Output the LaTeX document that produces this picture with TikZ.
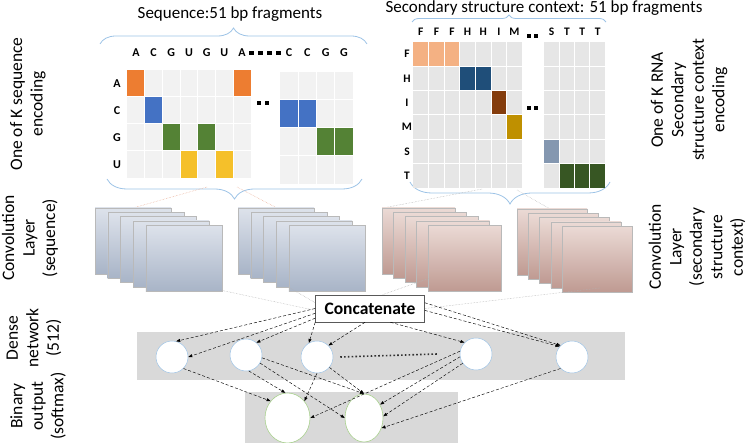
\documentclass[tikz,border=0pt]{standalone}
\usepackage{fontspec}
\setmainfont{Carlito}
\usetikzlibrary{arrows.meta,shapes.geometric,decorations.pathreplacing}

\definecolor{cellbg}{HTML}{F2F2F2}
\definecolor{cellbgb}{HTML}{E6E6E6}
\definecolor{nA}{HTML}{ED7D31}
\definecolor{nC}{HTML}{4472C4}
\definecolor{nG}{HTML}{548235}
\definecolor{nU}{HTML}{F5C02A}
\definecolor{sF}{HTML}{F4B183}
\definecolor{sH}{HTML}{1F4E79}
\definecolor{sI}{HTML}{843C0C}
\definecolor{sM}{HTML}{BF9000}
\definecolor{sS}{HTML}{8497B0}
\definecolor{sT}{HTML}{375623}
\definecolor{braceblue}{HTML}{9DC3E6}
\definecolor{bandgray}{HTML}{D9D9D9}
\definecolor{seqtop}{HTML}{DDE2EB}
\definecolor{seqbot}{HTML}{A8B4C7}
\definecolor{sectop}{HTML}{EBDAD5}
\definecolor{secbot}{HTML}{BF9A92}
\definecolor{outgreen}{HTML}{A9D18E}
\definecolor{guidered}{HTML}{E8A990}

\tikzset{
  sidelabel/.style={rotate=90, align=center, inner sep=1pt, font=\fontsize{17.5}{20.5}\selectfont},
  letter/.style={font=\fontsize{12}{13}\selectfont\bfseries, inner sep=0pt},
  braceline/.style={draw=braceblue, line width=0.8pt, decorate},
  guide/.style={densely dotted, line width=0.5pt, draw=gray!60},
  feature/.style={draw=gray!55, line width=0.4pt},
  gridline/.style={white, line width=1pt},
  dotsq/.style={fill=black},
  neuron/.style={circle, draw=braceblue, fill=white, line width=0.5pt, minimum size=32pt, inner sep=0pt},
  outneuron/.style={ellipse, draw=outgreen, fill=white, line width=0.6pt, inner sep=0pt},
  link/.style={densely dashed, line width=0.45pt, -{Triangle[length=4pt,width=3pt]}},
}

\begin{document}
\begin{tikzpicture}[x=1pt,y=-1pt]
  \useasboundingbox (0,0) rectangle (750,443);

  \node[font=\fontsize{17}{20}\selectfont] (seqtitle) at (230,14) {Sequence:51 bp fragments};
  \node[font=\fontsize{17}{20}\selectfont] (sectitle) at (544,8) {Secondary structure context: 51 bp fragments};

  \node[sidelabel] (encseq) at (28,104) {One of K sequence\\encoding};
  \node[sidelabel] (convseq) at (30,238) {Convolution\\Layer\\(sequence)};
  \node[sidelabel] (dense) at (34,338) {Dense\\network\\(512)};
  \node[sidelabel] (binout) at (38,406) {Binary\\output\\(softmax)};
  \node[sidelabel] (encsec) at (689,100) {One of K RNA\\Secondary\\structure context\\encoding};
  \node[sidelabel] (convsec) at (697,247) {Convolution\\Layer\\(secondary\\structure\\context)};

  \draw[braceline, decoration={brace,amplitude=16pt}] (100,44) -- (367,44);
  \draw[braceline, decoration={brace,amplitude=20pt}] (362,179) -- (107,179);
  \draw[braceline, decoration={brace,amplitude=7pt}] (412,22) -- (606,22);
  \draw[braceline, decoration={brace,amplitude=22pt}] (610,182) -- (410,182);

  \fill[cellbg] (127,70) rectangle (251,178);
  \foreach \c/\r/\col in {0/0/nA,1/1/nC,2/2/nG,3/3/nU,4/2/nG,5/3/nU,6/0/nA}
    \fill[\col] (127+17.7*\c,70+27*\r) rectangle ++(17.7,27);
  \foreach \c in {1,...,6} \draw[gridline] (127+17.7*\c,70) -- ++(0,108);
  \foreach \r in {1,2,3} \draw[gridline] (127,70+27*\r) -- ++(124,0);
  \fill[cellbg] (280,72) rectangle (353,184);
  \foreach \c/\r/\col in {0/1/nC,1/1/nC,2/2/nG,3/2/nG}
    \fill[\col] (280+18.3*\c,72+28*\r) rectangle ++(18.3,28);
  \foreach \c in {1,2,3} \draw[gridline] (280+18.3*\c,72) -- ++(0,112);
  \foreach \r in {1,2,3} \draw[gridline] (280,72+28*\r) -- ++(73,0);
  \foreach \l [count=\i from 0] in {A,C,G,U}
    \node[letter] at (117,83.5+27*\i) {\l};
  \foreach \l [count=\i from 0] in {A,C,G,U,G,U,A}
    \node[letter] at (135.9+17.7*\i,53) {\l};
  \foreach \l [count=\i from 0] in {C,C,G,G}
    \node[letter] at (289+18.3*\i,53) {\l};
  \foreach \x in {249,258,267,276} \fill[dotsq] (\x,51.3) rectangle ++(4.5,3.5);
  \foreach \x in {257,265} \fill[dotsq] (\x,101.5) rectangle ++(4,4);

  \fill[cellbgb] (413,42) rectangle (522.2,187.8);
  \foreach \c/\r/\col in {0/0/sF,1/0/sF,2/0/sF,3/1/sH,4/1/sH,5/2/sI,6/3/sM}
    \fill[\col] (413+15.6*\c,42+24.3*\r) rectangle ++(15.6,24.3);
  \foreach \c in {1,...,6} \draw[gridline] (413+15.6*\c,42) -- ++(0,145.8);
  \foreach \r in {1,...,5} \draw[gridline] (413,42+24.3*\r) -- ++(109.2,0);
  \fill[cellbgb] (544,42) rectangle (605.2,187.8);
  \foreach \c/\r/\col in {0/4/sS,1/5/sT,2/5/sT,3/5/sT}
    \fill[\col] (544+15.3*\c,42+24.3*\r) rectangle ++(15.3,24.3);
  \foreach \c in {1,2,3} \draw[gridline] (544+15.3*\c,42) -- ++(0,145.8);
  \foreach \r in {1,...,5} \draw[gridline] (544,42+24.3*\r) -- ++(61.2,0);
  \foreach \l [count=\i from 0] in {F,H,I,M,S,T}
    \node[letter, font=\fontsize{11.5}{12}\selectfont\bfseries] at (407,54.2+24.3*\i) {\l};
  \foreach \l [count=\i from 0] in {F,F,F,H,H,I,M}
    \node[letter, font=\fontsize{11.5}{12}\selectfont\bfseries] at (420.8+15.6*\i,32) {\l};
  \foreach \l [count=\i from 0] in {S,T,T,T}
    \node[letter, font=\fontsize{11.5}{12}\selectfont\bfseries] at (551.7+15.3*\i,32) {\l};
  \foreach \x in {527,534} {
    \fill[dotsq] (\x,34.5) rectangle ++(3.8,3.8);
    \fill[dotsq] (\x,106.5) rectangle ++(3.8,3.8);
  }

  \coordinate (seqL) at (207,187);
  \coordinate (seqR) at (237,187);
  \coordinate (secL) at (482,189);
  \coordinate (secR) at (517,190);
  \coordinate (map1) at (133,208);
  \coordinate (map2) at (277,208);
  \coordinate (map3) at (383,208);
  \coordinate (map4) at (550,209);
  \draw[guide, draw=guidered] (seqL) -- (map1);
  \draw[guide, draw=guidered] (seqR) -- (map2);
  \draw[guide] (secL) -- (map3);
  \draw[guide] (secR) -- (map4);

  \foreach \x/\ty/\dx/\w/\top/\bot in {95/208/12.7/76/seqtop/seqbot,238/208/12.7/76/seqtop/seqbot,382/208/11.5/73/sectop/secbot,517/209/11.3/70/sectop/secbot}
    \foreach \i in {0,...,4}
      \shade[feature, top color=\top, bottom color=\bot] (\x+\i*\dx,\ty+4.3*\i) rectangle ++(\w,66);

  \node[draw=gray!70!black, fill=white, line width=0.6pt, minimum width=109pt, minimum height=27pt,
        font=\fontsize{17.5}{19}\selectfont\bfseries, inner sep=1pt] (concat) at (370,308.5) {Concatenate};
  \coordinate (out1) at (220,290);
  \coordinate (out2) at (290,288);
  \coordinate (out3) at (430,278);
  \coordinate (out4) at (600,288);
  \draw[guide] (out1) -- (concat.182);
  \draw[guide] (out2) -- (concat.174);
  \draw[guide] (out3) -- (concat.48);
  \draw[guide] (out4) -- (concat.east);

  \fill[bandgray] (137,332) rectangle (625,380);
  \fill[bandgray] (245,392) rectangle (458,443);

  \node[neuron] (n1) at (172,357) {};
  \node[neuron] (n2) at (246,355) {};
  \node[neuron] (n3) at (317,357) {};
  \node[neuron] (n4) at (476,354) {};
  \node[neuron] (n5) at (572,357) {};
  \node[outneuron, minimum width=45pt, minimum height=50pt] (o1) at (287.5,418) {};
  \node[outneuron, minimum width=38pt, minimum height=48pt] (o2) at (364,418) {};
  \draw[line width=1.6pt, dash pattern=on 1.6pt off 2.2pt, black!80] ([xshift=7pt]n3.east) -- ([xshift=-22pt]n4.west);

  \draw[link] (concat.180) -- (n1.75);
  \draw[link] (concat.185) -- (n1.east);
  \draw[link] (concat.190) -- (n2.50);
  \draw[link] (concat.south west) -- (n3.120);
  \draw[link] (concat.250) -- (n3.45);
  \draw[link] (concat.326) -- (n4.135);
  \draw[link] (concat.6) -- (n5.135);
  \draw[link] (concat.358) -- (n5.140);

  \draw[link] (n1.-45) -- (o1.135);
  \draw[link] (n2.-80) -- (o1.95);
  \draw[link] (n3.south) -- (o1.45);
  \draw[link] (n4.170) -- (o1.east);
  \draw[link] (n2.-30) -- (o2.west);
  \draw[link] (n2.-10) -- (o2.north);
  \draw[link] (n3.-40) -- (o2.north);
  \draw[link] (n4.190) -- (o2.40);
  \draw[link] (n4.215) -- (o2.5);
  \draw[link] (n5.225) -- (o2.-30);
\end{tikzpicture}
\end{document}
